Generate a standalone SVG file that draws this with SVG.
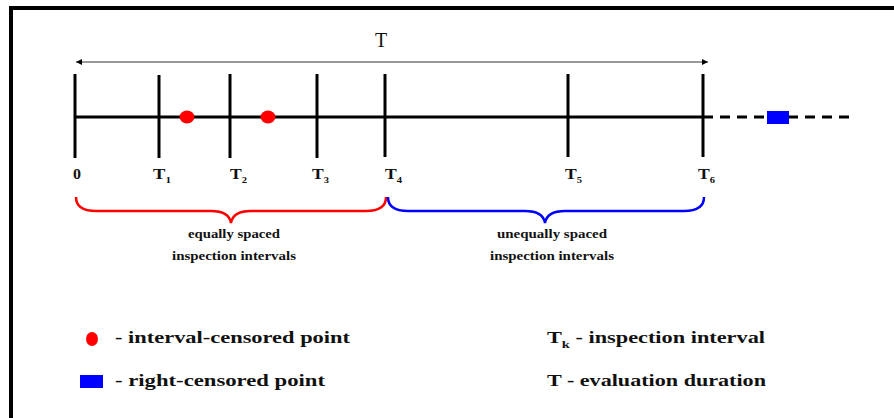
<svg xmlns="http://www.w3.org/2000/svg" width="894" height="418" viewBox="0 0 894 418">
<style>
text{font-family:'Liberation Serif','DejaVu Serif',serif;font-weight:700;fill:#111}
.tick{stroke:#000;stroke-width:3}
.lbl{font-size:15px}
.sub{font-size:9px}
.br{font-size:12.5px}
.leg{font-size:17px}
</style>
<defs>
<marker id="ah" viewBox="0 0 10 10" refX="10" refY="5" markerWidth="9" markerHeight="6" markerUnits="userSpaceOnUse" orient="auto-start-reverse">
<path d="M0,0 L10,5 L0,10 Z" fill="#000"/>
</marker>
</defs>
<rect x="0" y="0" width="894" height="418" fill="#fff"/>
<rect id="frame" x="11" y="8" width="900" height="430" fill="none" stroke="#000" stroke-width="4"/>
<g id="connectors">
<line x1="76" y1="62" x2="708" y2="62" stroke="#333" stroke-width="1" marker-start="url(#ah)" marker-end="url(#ah)"/>
<line x1="75" y1="117" x2="703" y2="117" stroke="#000" stroke-width="3"/>
<line x1="703" y1="117" x2="852" y2="117" stroke="#000" stroke-width="3" stroke-dasharray="10,7"/>
<path d="M76,197 Q76,211 96,211 L211,211 Q229,211 231,223 Q233,211 251,211 L366,211 Q386,211 386,197" fill="none" stroke="#f00" stroke-width="2.5"/>
<path d="M388,197 Q388,211 408,211 L525,211 Q543,211 545,223 Q547,211 565,211 L684,211 Q704,211 704,197" fill="none" stroke="#00f" stroke-width="2.5"/>
</g>
<g id="title"><text x="381" y="47" text-anchor="middle" font-size="20" style="font-weight:400">T</text></g>
<g id="t0"><line class="tick" x1="75" y1="74" x2="75" y2="158"/><text class="lbl" x="73" y="179" textLength="8" lengthAdjust="spacingAndGlyphs">0</text></g>
<g id="t1"><line class="tick" x1="159" y1="75" x2="159" y2="158"/><text class="lbl" x="153" y="179" textLength="18" lengthAdjust="spacingAndGlyphs">T<tspan class="sub" dy="4">1</tspan></text></g>
<g id="t2"><line class="tick" x1="230" y1="74" x2="230" y2="158"/><text class="lbl" x="230" y="179" textLength="17" lengthAdjust="spacingAndGlyphs">T<tspan class="sub" dy="4">2</tspan></text></g>
<g id="t3"><line class="tick" x1="317" y1="74" x2="317" y2="158"/><text class="lbl" x="312" y="179" textLength="17" lengthAdjust="spacingAndGlyphs">T<tspan class="sub" dy="4">3</tspan></text></g>
<g id="t4"><line class="tick" x1="385" y1="74" x2="385" y2="157"/><text class="lbl" x="385" y="179" textLength="17" lengthAdjust="spacingAndGlyphs">T<tspan class="sub" dy="4">4</tspan></text></g>
<g id="t5"><line class="tick" x1="568" y1="74" x2="568" y2="157"/><text class="lbl" x="565" y="179" textLength="17" lengthAdjust="spacingAndGlyphs">T<tspan class="sub" dy="4">5</tspan></text></g>
<g id="t6"><line class="tick" x1="703" y1="74" x2="703" y2="157"/><text class="lbl" x="698" y="179" textLength="17" lengthAdjust="spacingAndGlyphs">T<tspan class="sub" dy="4">6</tspan></text></g>
<g id="p1"><ellipse cx="187" cy="117" rx="7.5" ry="6.5" fill="#f00"/></g>
<g id="p2"><ellipse cx="268" cy="117" rx="7.5" ry="6.5" fill="#f00"/></g>
<g id="rc"><rect x="767" y="111" width="22" height="13" fill="#00f"/></g>
<g id="equal"><text class="br" x="188" y="238" textLength="92" lengthAdjust="spacingAndGlyphs">equally spaced</text><text class="br" x="172" y="260" textLength="124" lengthAdjust="spacingAndGlyphs">inspection intervals</text></g>
<g id="unequal"><text class="br" x="497" y="238" textLength="110" lengthAdjust="spacingAndGlyphs">unequally spaced</text><text class="br" x="490" y="260" textLength="124" lengthAdjust="spacingAndGlyphs">inspection intervals</text></g>
<g id="leg1"><ellipse cx="92" cy="339" rx="6" ry="7" fill="#f00"/><text class="leg" x="115" y="343" textLength="235" lengthAdjust="spacingAndGlyphs">- interval-censored point</text></g>
<g id="leg2"><rect x="80" y="375" width="23" height="13" fill="#00f"/><text class="leg" x="115" y="386" textLength="210" lengthAdjust="spacingAndGlyphs">- right-censored point</text></g>
<g id="leg3"><text class="leg" x="547" y="343" textLength="218" lengthAdjust="spacingAndGlyphs">T<tspan font-size="11" dy="5">k</tspan><tspan dy="-5"> - inspection interval</tspan></text></g>
<g id="leg4"><text class="leg" x="547" y="386" textLength="219" lengthAdjust="spacingAndGlyphs">T - evaluation duration</text></g>
</svg>
